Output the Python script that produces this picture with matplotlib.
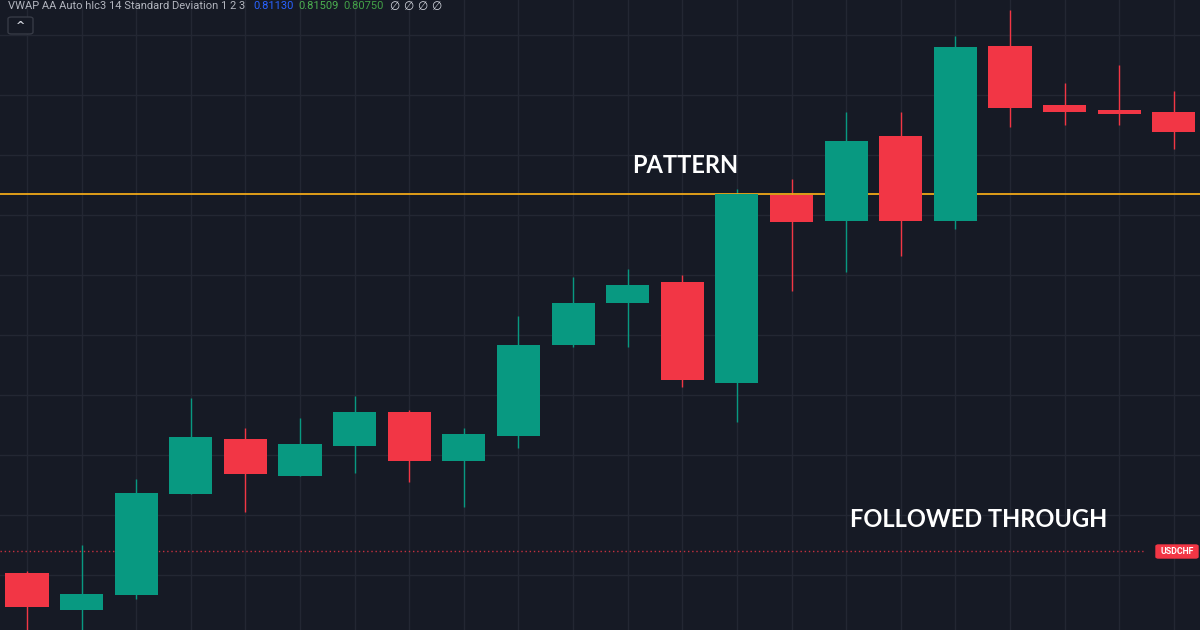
import matplotlib.pyplot as plt
from matplotlib.patches import FancyBboxPatch

# USDCHF candles
opens = [0.80582, 0.80545, 0.80560, 0.80661, 0.80716, 0.80679, 0.80709, 0.80743,
         0.80694, 0.80719, 0.80810, 0.80852, 0.80873, 0.80772, 0.80960, 0.80934,
         0.81019, 0.80934, 0.81109, 0.81050, 0.81045, 0.81043]
highs = [0.80584, 0.80610, 0.80676, 0.80757, 0.80727, 0.80737, 0.80759, 0.80745,
         0.80727, 0.80839, 0.80878, 0.80886, 0.80880, 0.80966, 0.80976, 0.81043,
         0.81043, 0.81119, 0.81145, 0.81072, 0.81090, 0.81064]
lows = [0.80522, 0.80523, 0.80556, 0.80661, 0.80643, 0.80679, 0.80682, 0.80673,
        0.80648, 0.80707, 0.80808, 0.80808, 0.80768, 0.80733, 0.80864, 0.80883,
        0.80899, 0.80926, 0.81028, 0.81030, 0.81030, 0.81006]
closes = [0.80548, 0.80561, 0.80662, 0.80718, 0.80681, 0.80711, 0.80743, 0.80694,
          0.80721, 0.80810, 0.80852, 0.80870, 0.80775, 0.80961, 0.80933, 0.81014,
          0.80934, 0.81108, 0.81047, 0.81043, 0.81041, 0.81023]

pattern_level = 0.80961
last_price = 0.80604
vwap_values = ['0.81130', '0.81509', '0.80750']

bg = '#161a25'
up_col = '#089981'
down_col = '#f23645'
grid_col = '#232733'

fig = plt.figure(figsize=(12, 6.3), dpi=100, facecolor=bg)
ax = fig.add_axes([0, 0, 1, 1], facecolor=bg)

n = len(opens)
xs = list(range(n))

# grid: a vertical line through every candle, horizontal every 0.0006
for x in xs:
    ax.axvline(x, color=grid_col, lw=1, zorder=0)
y = 0.80520
while y < 0.81200:
    ax.axhline(y, color=grid_col, lw=1, zorder=0)
    y += 0.0006

for i in xs:
    o, h, l, c = opens[i], highs[i], lows[i], closes[i]
    col = up_col if c >= o else down_col
    ax.vlines(i, l, h, color=col, lw=1, zorder=2)
    ax.bar(i, c - o, bottom=o, width=0.79, color=col, zorder=3)

ax.axhline(pattern_level, color='#f0a818', lw=1.3, zorder=2.5)
ax.plot([-0.5, 20.45], [last_price, last_price], color=down_col, lw=1,
        ls=(0, (1, 2)), alpha=0.8, zorder=1)

ax.set_xlim(-0.495, 21.48)
ax.set_ylim(0.80525, 0.81155)
ax.axis('off')

font = 'Lato'
ax.text(0.5265, 1 - 173 / 630, 'PATTERN', transform=ax.transAxes, color='white',
        fontsize=17, fontweight='bold', family=font, va='baseline', ha='left')
ax.text(0.708, 1 - 527 / 630, 'FOLLOWED THROUGH', transform=ax.transAxes, color='white',
        fontsize=17, fontweight='bold', family=font, va='baseline', ha='left')

# price label on the right
fig.patches.append(FancyBboxPatch((1156 / 1200, 1 - 558 / 630), 42 / 1200, 13 / 630,
                                  boxstyle='round,pad=0,rounding_size=0.002',
                                  transform=fig.transFigure, color=down_col))
fig.text(1177 / 1200, 1 - 551.5 / 630, 'USDCHF', color='white', fontsize=6.3,
         fontweight='bold', ha='center', va='center', family='Roboto')

# indicator legend top left
top = 1 - 6 / 630
fig.text(8 / 1200, top, 'VWAP AA Auto hlc3 14 Standard Deviation 1 2 3',
         color='#b2b5be', fontsize=8, va='center', family='Roboto')
for xp, val, col in zip([253, 298, 343], vwap_values, ['#2962ff', '#4caf50', '#43a047']):
    fig.text(xp / 1200, top, val, color=col, fontsize=8, va='center', family='Roboto')
fig.text(390 / 1200, top, '\u2205 \u2205 \u2205 \u2205', color='#d1d4dc', fontsize=8.5,
         va='center', family='DejaVu Sans')

# collapse button
fig.patches.append(FancyBboxPatch((8 / 1200, 1 - 34 / 630), 25 / 1200, 17 / 630,
                                  boxstyle='round,pad=0,rounding_size=0.003',
                                  transform=fig.transFigure, facecolor=bg,
                                  edgecolor='#363a45', lw=1))
fig.text(20.5 / 1200, 1 - 26 / 630, '^', color='#d1d4dc', fontsize=8,
         ha='center', va='center', fontweight='bold')

fig.savefig('out.png', dpi=100, facecolor=bg)
